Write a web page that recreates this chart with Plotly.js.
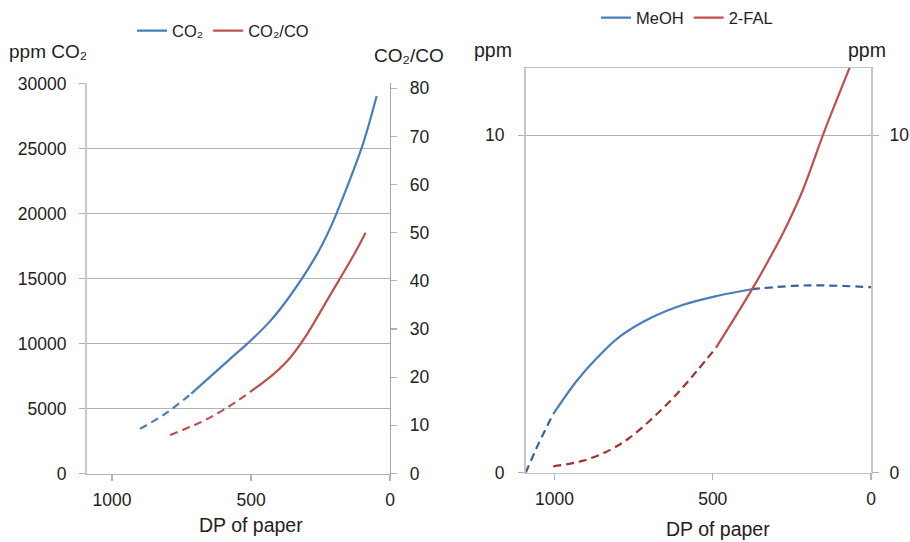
<!DOCTYPE html>
<html>
<head>
<meta charset="utf-8">
<script src="https://cdn.plot.ly/plotly-3.0.1.min.js"></script>
<style>html,body{margin:0;padding:0;background:#fff}#chart{width:910px;height:542px}</style>
</head>
<body>
<div id="chart"></div>
<script>
// ---- Left chart: CO2 (ppm) and CO2/CO ratio vs DP of paper ----
const co2DashDP   = [900, 809, 715];
const co2Dash     = [3430, 4590, 6140];
const co2SolidDP  = [715, 576, 515, 432, 360, 264, 216, 156, 96, 48];
const co2Solid    = [6140, 8800, 9950, 11700, 13650, 16810, 18830, 21950, 25430, 29030];

const ratioDashDP  = [791, 683, 594, 504];
const ratioDash    = [8.0, 10.6, 13.4, 16.9];
const ratioSolidDP = [504, 420, 360, 300, 216, 132, 88];
const ratioSolid   = [16.9, 20.6, 24.0, 28.8, 37.0, 45.2, 50.0];

// ---- Right chart: MeOH and 2-FAL (ppm) vs DP of paper ----
const meohDash1DP = [1091, 1051, 1004];
const meohDash1   = [0, 0.85, 1.74];
const meohSolidDP = [1004, 930, 866, 793, 698, 593, 487, 377];
const meohSolid   = [1.74, 2.72, 3.40, 4.04, 4.58, 4.98, 5.24, 5.44];
const meohDash2DP = [377, 245, 140, 0];
const meohDash2   = [5.44, 5.54, 5.55, 5.50];

const falDashDP  = [1004, 909, 824, 761, 688, 614, 551, 490];
const falDash    = [0.19, 0.36, 0.68, 1.05, 1.64, 2.33, 3.01, 3.70];
const falSolidDP = [490, 377, 309, 266, 214, 151, 108, 66];
const falSolid   = [3.70, 5.42, 6.55, 7.33, 8.41, 10.03, 11.06, 12.04];

const xTicks = [1000, 500, 0];
const leftTicks = [0, 5000, 10000, 15000, 20000, 25000, 30000];
const ratioTicks = [0, 10, 20, 30, 40, 50, 60, 70, 80];
const rightTicks = [0, 10];

const BLUE = '#4a7ebb', RED = '#c0504d', DBLUE = '#36609b', DRED = '#a03330';
const FONT = 'Liberation Sans, Arial, sans-serif';
const TXT = '#222222';
const DASH = '8px,5px';

function ln(x, y, xa, ya, color, dash, name, legend, show) {
  return {x: x, y: y, xaxis: xa, yaxis: ya, type: 'scatter', mode: 'lines',
    name: name, legend: legend, showlegend: show, hoverinfo: 'skip',
    line: {color: color, width: 2.2, dash: dash || 'solid', shape: 'spline', smoothing: 1}};
}

const data = [
  ln(co2SolidDP, co2Solid, 'x', 'y', BLUE, 'solid', 'CO₂', 'legend', true),
  ln(co2DashDP, co2Dash, 'x', 'y', BLUE, DASH, 'CO₂', 'legend', false),
  ln(ratioSolidDP, ratioSolid, 'x', 'y2', RED, 'solid', 'CO₂/CO', 'legend', true),
  ln(ratioDashDP, ratioDash, 'x', 'y2', RED, DASH, 'CO₂/CO', 'legend', false),
  ln(meohSolidDP, meohSolid, 'x2', 'y3', BLUE, 'solid', 'MeOH', 'legend2', true),
  ln(meohDash1DP, meohDash1, 'x2', 'y3', DBLUE, DASH, 'MeOH', 'legend2', false),
  ln(meohDash2DP, meohDash2, 'x2', 'y3', DBLUE, DASH, 'MeOH', 'legend2', false),
  ln(falSolidDP, falSolid, 'x2', 'y4', RED, 'solid', '2-FAL', 'legend2', true),
  ln(falDashDP, falDash, 'x2', 'y4', DRED, DASH, '2-FAL', 'legend2', false)
];

const W = 910, H = 542;
const px = v => v / W, py = v => 1 - v / H;
const tickFont = {family: FONT, size: 17.5, color: TXT};

const baseAxis = {
  showgrid: false, zeroline: false, ticks: 'outside', ticklen: 6, tickwidth: 1.2,
  tickcolor: '#b3b3b3', tickfont: tickFont, automargin: false, fixedrange: true
};

const layout = {
  width: W, height: H,
  margin: {l: 0, r: 0, t: 0, b: 0},
  paper_bgcolor: '#ffffff', plot_bgcolor: 'rgba(0,0,0,0)',
  font: {family: FONT, color: TXT},
  xaxis: Object.assign({}, baseAxis, {
    domain: [px(87), px(390)], anchor: 'y', range: [1090, 0], tickvals: xTicks,
    showline: true, linecolor: '#b3b3b3', linewidth: 1.2, ticklabelstandoff: 4
  }),
  yaxis: Object.assign({}, baseAxis, {
    domain: [py(473), py(80)], anchor: 'x', range: [0, 30000], tickvals: leftTicks, tickformat: 'd',
    showgrid: true, gridcolor: '#b3b3b3', gridwidth: 1.2,
    showline: true, linecolor: '#c8c8c8', linewidth: 2, ticklabelstandoff: 9
  }),
  yaxis2: Object.assign({}, baseAxis, {
    overlaying: 'y', side: 'right', anchor: 'x', range: [0, 81], tickvals: ratioTicks,
    showline: true, linecolor: '#a8a8a8', linewidth: 1.2, ticklabelstandoff: 9
  }),
  xaxis2: Object.assign({}, baseAxis, {
    domain: [px(526), px(871)], anchor: 'y3', range: [1090, 0], tickvals: xTicks,
    showline: true, mirror: true, linecolor: '#c0c0c0', linewidth: 1.3, ticklabelstandoff: 4
  }),
  yaxis3: Object.assign({}, baseAxis, {
    domain: [py(472.3), py(64.3)], anchor: 'x2', range: [0, 12], tickvals: rightTicks,
    showgrid: true, gridcolor: '#b3b3b3', gridwidth: 1.2,
    showline: true, linecolor: '#c6c6c6', linewidth: 2, ticklabelstandoff: 10
  }),
  yaxis4: Object.assign({}, baseAxis, {
    overlaying: 'y3', side: 'right', anchor: 'x2', range: [0, 12], tickvals: rightTicks,
    showline: true, linecolor: '#c6c6c6', linewidth: 2, ticklabelstandoff: 7
  }),
  legend: {
    orientation: 'h', x: px(132), xanchor: 'left', y: py(27), yanchor: 'middle',
    font: {family: FONT, size: 16.5, color: TXT}, bgcolor: 'rgba(0,0,0,0)', borderwidth: 0
  },
  legend2: {
    orientation: 'h', x: px(596), xanchor: 'left', y: py(14), yanchor: 'middle',
    font: {family: FONT, size: 16.5, color: TXT}, bgcolor: 'rgba(0,0,0,0)', borderwidth: 0
  },
  annotations: [
    {text: 'ppm CO₂', x: px(47.5), y: py(48), xref: 'paper', yref: 'paper', showarrow: false,
     xanchor: 'center', yanchor: 'middle', font: {family: FONT, size: 19, color: TXT}},
    {text: 'CO₂/CO', x: px(408.5), y: py(52), xref: 'paper', yref: 'paper', showarrow: false,
     xanchor: 'center', yanchor: 'middle', font: {family: FONT, size: 19, color: TXT}},
    {text: 'ppm', x: px(493.5), y: py(46), xref: 'paper', yref: 'paper', showarrow: false,
     xanchor: 'center', yanchor: 'middle', font: {family: FONT, size: 19.5, color: TXT}},
    {text: 'ppm', x: px(867), y: py(46), xref: 'paper', yref: 'paper', showarrow: false,
     xanchor: 'center', yanchor: 'middle', font: {family: FONT, size: 19.5, color: TXT}},
    {text: 'DP of paper', x: px(250.5), y: py(525), xref: 'paper', yref: 'paper', showarrow: false,
     xanchor: 'center', yanchor: 'middle', font: {family: FONT, size: 19.5, color: TXT}},
    {text: 'DP of paper', x: px(717.5), y: py(529), xref: 'paper', yref: 'paper', showarrow: false,
     xanchor: 'center', yanchor: 'middle', font: {family: FONT, size: 19.5, color: TXT}}
  ]
};

Plotly.newPlot('chart', data, layout, {displayModeBar: false, staticPlot: true});
</script>
</body>
</html>
